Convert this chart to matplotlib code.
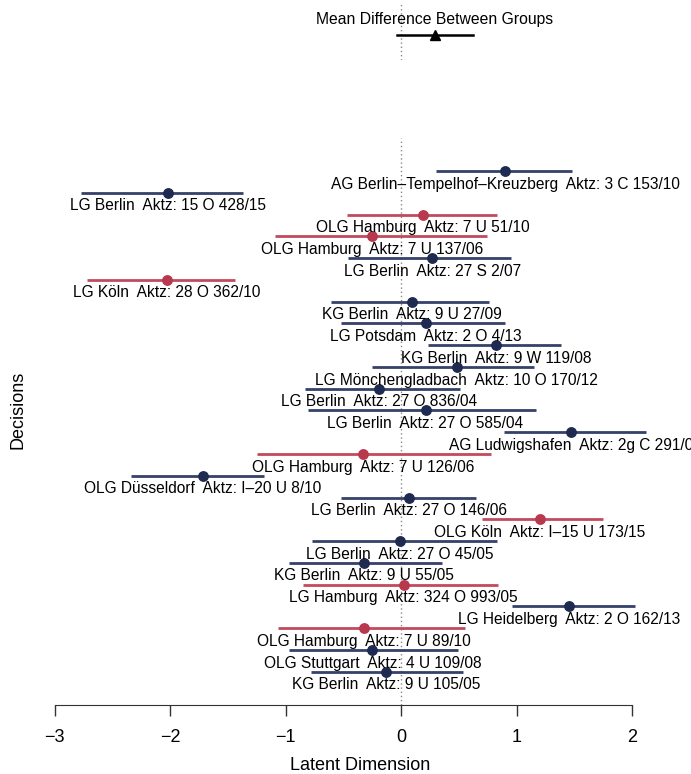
import matplotlib.pyplot as plt

plt.rcParams['font.family'] = ['Liberation Sans', 'DejaVu Sans']

# decisions, top to bottom
courts = [
    'AG Berlin–Tempelhof–Kreuzberg', 'LG Berlin', 'OLG Hamburg', 'OLG Hamburg',
    'LG Berlin', 'LG Köln', 'KG Berlin', 'LG Potsdam', 'KG Berlin',
    'LG Mönchengladbach', 'LG Berlin', 'LG Berlin', 'AG Ludwigshafen',
    'OLG Hamburg', 'OLG Düsseldorf', 'LG Berlin', 'OLG Köln', 'LG Berlin',
    'KG Berlin', 'LG Hamburg', 'LG Heidelberg', 'OLG Hamburg',
    'OLG Stuttgart', 'KG Berlin',
]
case_numbers = [
    '3 C 153/10', '15 O 428/15', '7 U 51/10', '7 U 137/06', '27 S 2/07',
    '28 O 362/10', '9 U 27/09', '2 O 4/13', '9 W 119/08', '10 O 170/12',
    '27 O 836/04', '27 O 585/04', '2g C 291/0', '7 U 126/06', 'I–20 U 8/10',
    '27 O 146/06', 'I–15 U 173/15', '27 O 45/05', '9 U 55/05', '324 O 993/05',
    '2 O 162/13', '7 U 89/10', '4 U 109/08', '9 U 105/05',
]
estimates = [0.90, -2.02, 0.19, -0.25, 0.27, -2.03, 0.09, 0.21, 0.82, 0.48,
             -0.19, 0.21, 1.47, -0.33, -1.72, 0.07, 1.20, -0.01, -0.32, 0.02,
             1.45, -0.32, -0.25, -0.13]
lower = [0.30, -2.77, -0.47, -1.09, -0.46, -2.72, -0.61, -0.52, 0.23, -0.25,
         -0.83, -0.81, 0.89, -1.25, -2.34, -0.52, 0.70, -0.77, -0.97, -0.85,
         0.96, -1.07, -0.97, -0.78]
upper = [1.48, -1.37, 0.83, 0.74, 0.95, -1.44, 0.76, 0.90, 1.38, 1.15,
         0.51, 1.17, 2.12, 0.78, -1.19, 0.65, 1.75, 0.83, 0.35, 0.84,
         2.02, 0.55, 0.49, 0.53]
group = ['b', 'b', 'r', 'r', 'b', 'r', 'b', 'b', 'b', 'b', 'b', 'b', 'b',
         'r', 'b', 'b', 'r', 'b', 'b', 'r', 'b', 'r', 'b', 'b']

mean_diff = 0.29
mean_lower = -0.04
mean_upper = 0.62

line_colors = {'b': '#35416a', 'r': '#c24a5c'}
dot_colors = {'b': '#1e2a4f', 'r': '#b8384e'}

fig = plt.figure(figsize=(6.91, 7.74), dpi=100)
xlim = ((40 - 401.3) / 115.5, (680 - 401.3) / 115.5)

# top panel: mean difference
ax_top = fig.add_axes([40 / 691, 1 - 60 / 774, 640 / 691, 57 / 774])
ax_top.set_xlim(xlim)
ax_top.set_ylim(0, 1)
ax_top.axvline(0, color='#888888', ls=(0, (1, 2)), lw=1)
ax_top.plot([mean_lower, mean_upper], [0.44, 0.44], color='black', lw=1.8)
ax_top.plot(mean_diff, 0.44, marker='^', color='black', ms=7)
ax_top.text(mean_diff, 0.63, 'Mean Difference Between Groups', ha='center',
            va='baseline', fontsize=11.3)
ax_top.axis('off')

# main panel: decisions
ax = fig.add_axes([40 / 691, 1 - 705 / 774, 640 / 691, 567 / 774])
rows = list(range(1, len(courts) + 1))
ax.axvline(0, color='#888888', ls=(0, (1, 2)), lw=1)
for y, est, lo, hi, g, court, case in zip(rows, estimates, lower, upper,
                                          group, courts, case_numbers):
    ax.plot([lo, hi], [y, y], color=line_colors[g], lw=2, solid_capstyle='butt')
    ax.plot(est, y, 'o', color=dot_colors[g], ms=6.8)
    ax.annotate(f'{court}  Aktz: {case}', (est, y), xytext=(0, -12.7),
                textcoords='offset points', ha='center', va='baseline',
                fontsize=11.2, annotation_clip=False)

ax.set_xlim(xlim)
ax.set_ylim(25.53, -0.516)
ax.set_xticks([-3, -2, -1, 0, 1, 2])
ax.set_yticks([])
for side in ['top', 'right', 'left']:
    ax.spines[side].set_visible(False)
ax.spines['bottom'].set_bounds(-3, 2)
ax.spines['bottom'].set_color('#333333')
ax.tick_params(axis='x', length=8, width=1, color='#333333', pad=9,
               labelsize=13)
ax.set_xlabel('Latent Dimension', fontsize=13, labelpad=8)
fig.text(18 / 691, 1 - 410 / 774, 'Decisions', rotation=90, ha='center',
         va='center', fontsize=13)

fig.savefig('out.png', dpi=100)
